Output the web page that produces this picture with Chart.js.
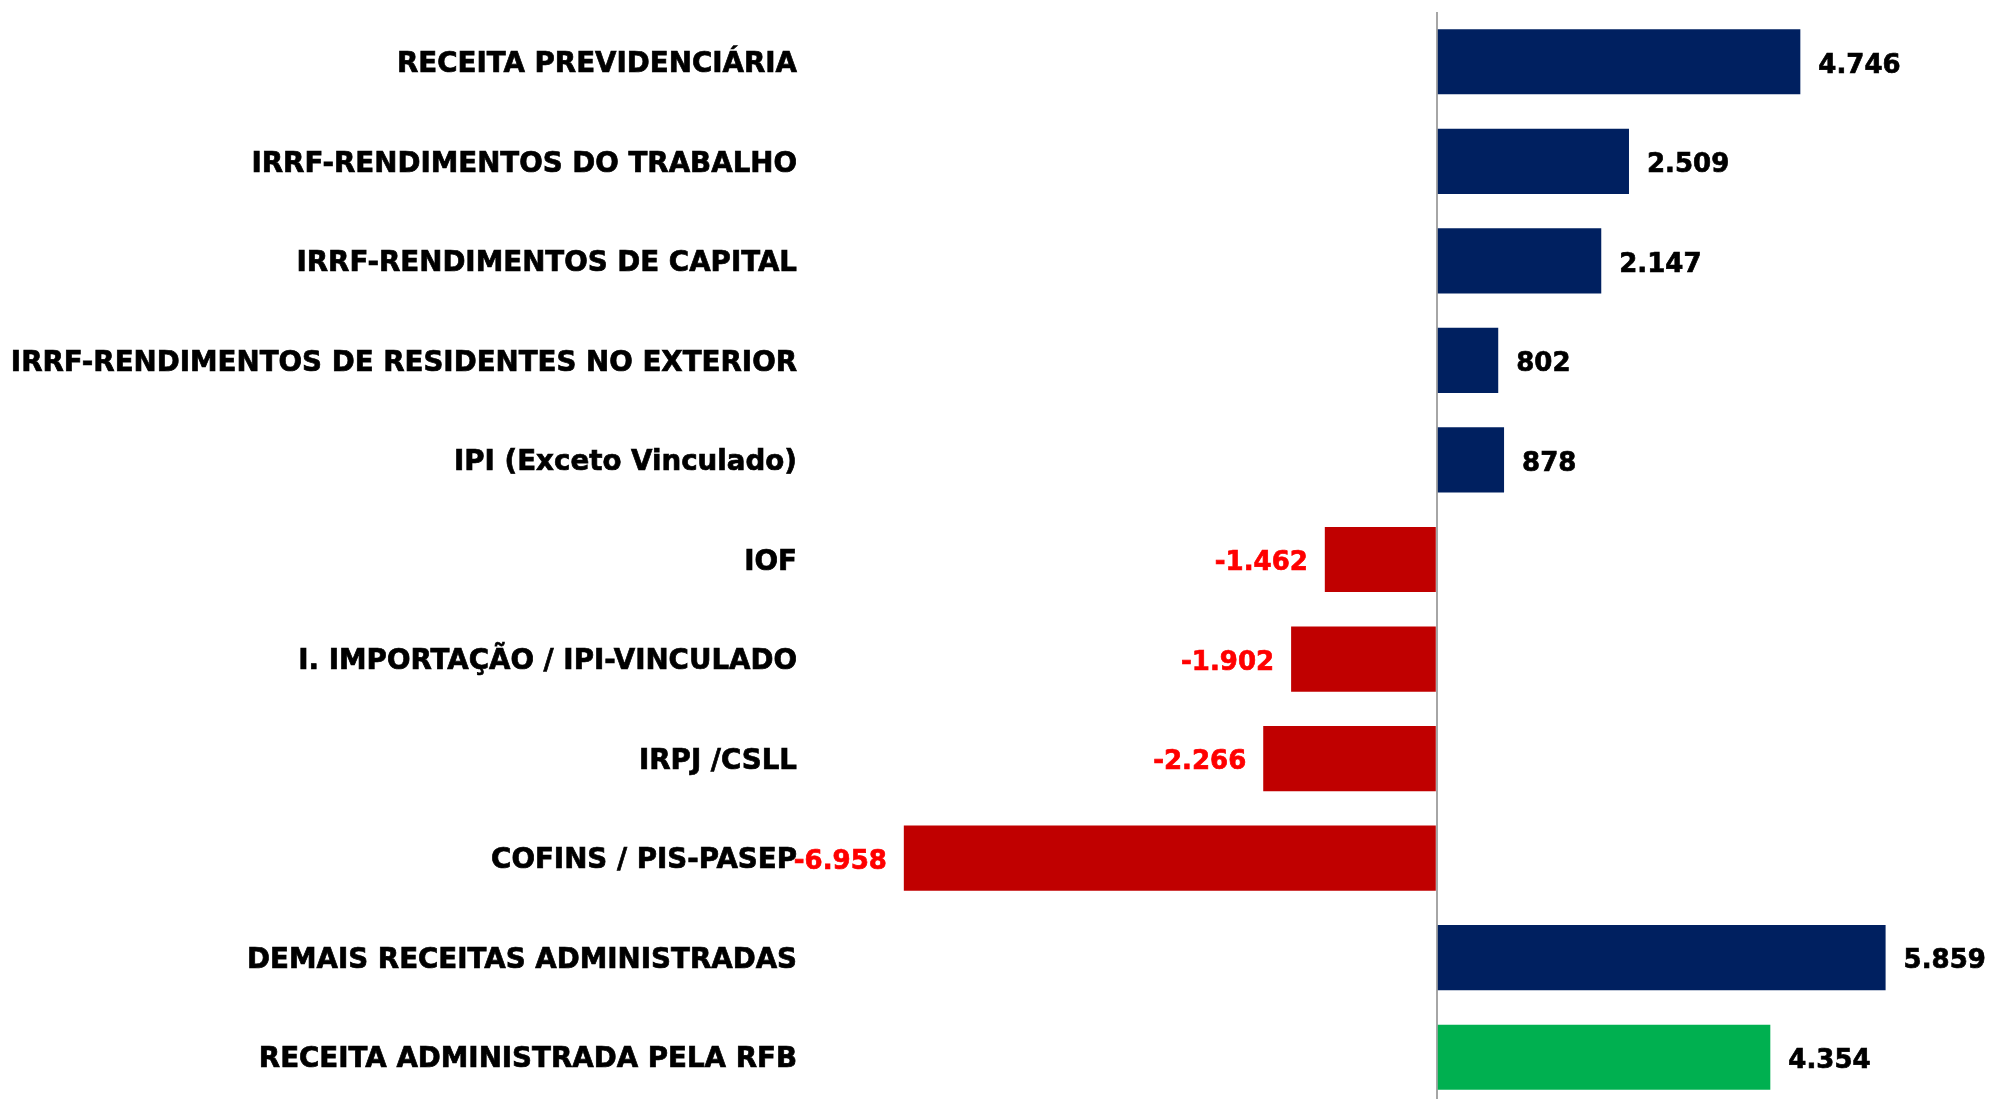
<!DOCTYPE html>
<html>
<head>
<meta charset="utf-8">
<script src="https://cdn.jsdelivr.net/npm/chart.js@4/dist/chart.umd.min.js"></script>
<style>
  html, body { margin: 0; padding: 0; background: #fff; overflow: hidden; }
  #caixa { width: 1989px; height: 1107px; position: relative; }
</style>
</head>
<body>
<div id="caixa"><canvas id="grafica"></canvas></div>
<script>
// ===============================
// DADOS (R$ milhões)
// ===============================
const categorias = [
  "RECEITA PREVIDENCIÁRIA",
  "IRRF-RENDIMENTOS DO TRABALHO",
  "IRRF-RENDIMENTOS DE CAPITAL",
  "IRRF-RENDIMENTOS DE RESIDENTES NO EXTERIOR",
  "IPI (Exceto Vinculado)",
  "IOF",
  "I. IMPORTAÇÃO / IPI-VINCULADO",
  "IRPJ /CSLL",
  "COFINS / PIS-PASEP",
  "DEMAIS RECEITAS ADMINISTRADAS",
  "RECEITA ADMINISTRADA PELA RFB"
];
const valores = [4746, 2509, 2147, 802, 878, -1462, -1902, -2266, -6958, 5859, 4354];

const AZUL = "#002060";
const VERMELHO = "#C00000";
const VERDE = "#00B050";

// último item é o total
const coresBarras = valores.map((v, i) =>
  i === valores.length - 1 ? VERDE : (v < 0 ? VERMELHO : AZUL)
);

// ===============================
// UTIL: 4746 -> 4.746
// ===============================
function formatar(v) {
  const s = String(Math.abs(v)).replace(/\B(?=(\d{3})+(?!\d))/g, ".");
  return (v < 0 ? "-" : "") + s;
}

// rótulos de valor ao lado das barras
const rotulos = {
  id: "rotulos",
  afterDatasetsDraw(chart) {
    const ctx = chart.ctx;
    const meta = chart.getDatasetMeta(0);
    ctx.save();
    ctx.font = 'bold 26px "DejaVu Sans"';
    ctx.textBaseline = "middle";
    ctx.lineWidth = 0.7;
    meta.data.forEach((barra, i) => {
      const v = valores[i];
      const neg = v < 0;
      const x = neg ? barra.x - 17 : barra.x + 18;
      ctx.fillStyle = neg ? "#FF0000" : "#000000";
      ctx.strokeStyle = ctx.fillStyle;
      ctx.textAlign = neg ? "right" : "left";
      ctx.fillText(formatar(v), x, barra.y + 4);
      ctx.strokeText(formatar(v), x, barra.y + 4);
    });
    ctx.restore();
  }
};

new Chart(document.getElementById("grafica").getContext("2d"), {
  type: "bar",
  data: {
    labels: categorias,
    datasets: [{
      data: valores,
      backgroundColor: coresBarras,
      borderWidth: 0,
      barPercentage: 0.655,
      categoryPercentage: 1
    }]
  },
  options: {
    indexAxis: "y",
    responsive: true,
    maintainAspectRatio: false,
    animation: false,
    layout: { padding: { top: 12, right: 16, left: 0, bottom: 0 } },
    plugins: {
      legend: { display: false },
      tooltip: { enabled: false }
    },
    scales: {
      x: {
        min: -8000,
        max: 7000,
        ticks: { display: false, stepSize: 1000 },
        border: { display: false },
        grid: {
          drawTicks: false,
          lineWidth: 2,
          color: c => (c.tick && c.tick.value === 0 ? "#A6A6A6" : "transparent")
        }
      },
      y: {
        afterFit: s => {
          s.width = 824;
          s.paddingTop = 0;
          s.paddingBottom = 0;
        },
        border: { display: false },
        grid: { display: false, drawTicks: false },
        ticks: {
          autoSkip: false,
          padding: 27,
          labelOffset: 3,
          color: "#000",
          textStrokeColor: "#000",
          textStrokeWidth: 0.7,
          font: { family: "DejaVu Sans", weight: "bold", size: 27.7 }
        }
      }
    }
  },
  plugins: [rotulos]
});
</script>
</body>
</html>
